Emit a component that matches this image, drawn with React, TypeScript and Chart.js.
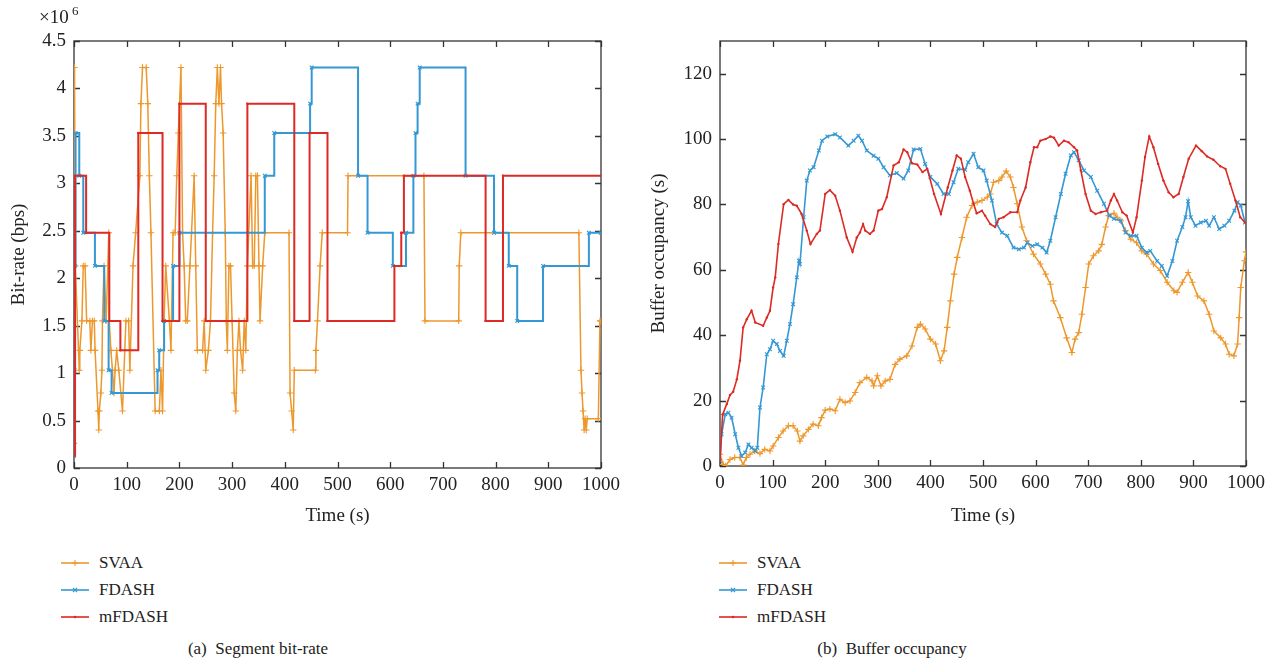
import React, { useEffect, useRef } from 'react';
import { Chart, registerables } from 'chart.js';
Chart.register(...registerables);

const FONT = '"Liberation Serif", "Times New Roman", serif';
const ORANGE = 'rgb(237,152,44)';
const BLUE = 'rgb(52,152,212)';
const RED = 'rgb(220,42,36)';
const AXIS = '#333333';

const seriesNames = ['SVAA', 'FDASH', 'mFDASH'];
const xTicks = [0, 100, 200, 300, 400, 500, 600, 700, 800, 900, 1000];
const rateTicks = [0, 0.5, 1, 1.5, 2, 2.5, 3, 3.5, 4, 4.5];
const bufTicks = [0, 20, 40, 60, 80, 100, 120];

// ---- (a) Segment bit-rate (x10^6 bps) ----
const rateSvaaT = [0, 1, 2.5, 10, 11, 15, 17.6, 21, 24, 30, 32, 35, 38.5, 40, 45.5, 47, 48, 51, 53, 54, 57, 61, 66, 67, 70, 73, 76, 78, 81, 85, 92, 98.5, 103.6, 106, 112, 117, 125, 127, 130, 137, 140, 143, 146, 154, 162, 165, 168, 171, 174, 181, 184, 188, 192, 195, 198, 203, 206, 209, 212, 215, 220, 223, 228, 231, 234, 244, 247, 250, 255, 259, 263, 266, 269, 272, 275, 278, 280, 283, 287, 289, 291, 294, 297, 300, 304, 307, 310, 313, 316, 320, 323, 326, 329, 336, 339, 342, 345, 348, 351, 353, 358, 362, 408, 410, 413, 416, 418, 458, 459, 462, 467, 471, 519, 520, 664, 666, 730, 731, 734, 958, 962, 964, 966, 968, 970, 972, 974, 995, 998, 1000];
const rateSvaaV = [0.26, 4.22, 2.13, 1.03, 1.24, 1.55, 2.13, 2.13, 1.55, 1.55, 1.24, 1.55, 1.55, 1.24, 0.6, 0.4, 0.6, 0.79, 1.03, 1.55, 2.13, 1.55, 2.48, 1.55, 1.24, 1.03, 0.79, 1.03, 1.24, 1.03, 0.6, 1.55, 1.55, 1.03, 2.13, 2.48, 3.08, 3.84, 4.22, 4.22, 3.84, 3.08, 2.48, 0.6, 0.6, 1.03, 0.6, 1.55, 2.13, 1.55, 1.24, 2.48, 2.48, 3.08, 3.53, 4.22, 2.48, 2.13, 1.55, 1.55, 2.13, 2.48, 3.08, 2.13, 1.24, 1.24, 1.55, 1.03, 1.24, 1.55, 2.48, 3.08, 3.84, 4.22, 3.84, 4.22, 3.84, 3.53, 2.48, 1.55, 1.24, 2.13, 2.13, 1.55, 0.79, 0.6, 1.24, 1.55, 1.24, 1.03, 1.55, 1.24, 2.13, 3.08, 2.13, 2.13, 3.08, 3.08, 2.13, 1.55, 2.13, 2.48, 2.48, 0.79, 0.6, 0.4, 1.03, 1.03, 1.24, 1.55, 2.13, 2.48, 2.48, 3.08, 3.08, 1.55, 1.55, 2.13, 2.48, 2.48, 1.03, 0.79, 0.6, 0.4, 0.52, 0.4, 0.52, 0.52, 1.55, 1.55];

const rateFdashT = [0, 1, 2, 3, 10, 17.6, 39.7, 57.4, 65.7, 71.3, 158.5, 161.7, 171, 188, 200, 362, 380, 448, 451, 539, 557, 605, 630, 644, 648, 652, 656, 743, 797, 825, 841, 890, 977, 1000];
const rateFdashV = [0.13, 1.03, 2.13, 3.53, 3.08, 2.48, 2.13, 1.55, 1.03, 0.79, 1.03, 1.24, 1.55, 2.13, 2.48, 3.08, 3.53, 3.84, 4.22, 3.08, 2.48, 2.13, 2.48, 3.08, 3.53, 3.84, 4.22, 3.08, 2.48, 2.13, 1.55, 2.13, 2.48, 2.48];

const rateMfdashT = [0, 2, 23, 67, 88, 122, 168, 200, 250, 329, 418, 447, 481, 608, 621, 626, 781, 814, 1000];
const rateMfdashV = [0.13, 3.08, 2.48, 1.55, 1.24, 3.53, 1.55, 3.84, 1.55, 3.84, 1.55, 3.53, 1.55, 2.13, 2.48, 3.08, 1.55, 3.08, 3.08];

// ---- (b) Buffer occupancy (s) ----
const bufSvaaT = [0, 6, 11, 19, 28, 38, 44, 50, 57, 66, 76, 85, 95, 101, 111, 120, 130, 139, 147, 152, 158, 168, 177, 187, 193, 200, 209, 219, 228, 238, 247, 257, 266, 279, 289, 292, 299, 306, 314, 323, 333, 342, 355, 365, 375, 381, 390, 400, 410, 419, 426, 432, 438, 445, 451, 460, 469, 479, 489, 498, 508, 514, 520, 530, 536, 544, 552, 558, 565, 574, 583, 596, 609, 619, 628, 634, 647, 659, 669, 675, 682, 688, 695, 701, 710, 720, 726, 733, 739, 749, 755, 762, 771, 781, 792, 802, 811, 824, 837, 850, 863, 869, 879, 890, 898, 908, 920, 930, 939, 952, 961, 968, 977, 984, 987, 990, 997, 1000];
const bufSvaaV = [3.6, 0.5, 0, 2, 2.6, 2.6, 0.3, 2.6, 3.6, 4.6, 3.8, 5.1, 4.6, 6.1, 8.7, 10.7, 12.3, 12.3, 10.7, 7.6, 9.2, 11.2, 12.8, 12.3, 14.8, 17.1, 17.4, 16.9, 20.4, 19.4, 19.9, 22.5, 25.5, 27.1, 26, 24.5, 27.6, 24.5, 26, 26.5, 31.1, 32.7, 33.7, 36.7, 42.4, 43.4, 41.9, 38.8, 37.3, 32.2, 35.2, 42.4, 50.5, 58.7, 63.8, 69.9, 76.1, 79.7, 80.7, 81.2, 82.2, 83.2, 86.8, 87.3, 88.4, 90.2, 88.4, 85.2, 80.2, 73.1, 68.9, 64.8, 61.8, 58.7, 55.6, 50.5, 45.4, 39.2, 34.7, 38.8, 40.8, 46.4, 54.6, 61.8, 64.3, 65.8, 67.8, 73.1, 76.6, 77.3, 76.1, 75, 72, 69.4, 68.3, 65.8, 64.8, 61.8, 59.8, 56.2, 53.6, 53.1, 56.2, 59.2, 56.2, 52, 50.5, 46.4, 41.3, 39.2, 37.3, 34.2, 33.7, 37.3, 45.4, 54.6, 62.8, 65.5];

const bufFdashT = [0, 3, 10, 16, 22, 29, 35, 41, 48, 54, 60, 67, 71, 76, 82, 89, 95, 101, 108, 114, 121, 127, 133, 139, 146, 150, 152, 159, 165, 171, 178, 188, 194, 204, 219, 228, 244, 254, 263, 270, 279, 292, 301, 311, 323, 336, 349, 358, 368, 381, 390, 400, 413, 425, 435, 444, 453, 466, 472, 482, 491, 501, 507, 517, 526, 536, 546, 558, 568, 578, 584, 594, 603, 613, 621, 628, 638, 648, 657, 667, 673, 682, 692, 705, 717, 730, 740, 749, 762, 771, 781, 792, 802, 811, 818, 831, 840, 850, 860, 869, 879, 885, 890, 895, 904, 914, 924, 930, 939, 949, 959, 968, 978, 984, 990, 998];
const bufFdashV = [1.5, 9.7, 15.8, 16.3, 14.8, 9.7, 5.6, 3.1, 4.1, 6.6, 5.6, 4.6, 5.6, 17.9, 24, 34.2, 35.7, 38.3, 37.3, 35.2, 33.7, 38.3, 43.4, 49.5, 57.7, 62.8, 61.8, 76.1, 87.3, 90.4, 91.4, 96.5, 99.5, 100.8, 101.5, 100.5, 98, 99.5, 101, 99.5, 96.5, 94.9, 94, 91.4, 88.9, 89.6, 87.9, 90.4, 96.8, 97, 92.4, 88.4, 86.3, 83.2, 83.2, 86.8, 90.9, 90.6, 92.9, 95.5, 91.4, 90.4, 87.3, 81.2, 74, 71.4, 70.4, 66.8, 66.3, 66.8, 68.3, 67.3, 67.8, 66.8, 65.3, 68.9, 76.1, 83.2, 89.4, 95, 96, 93.5, 90.4, 88.4, 84.2, 80.2, 76.6, 75.6, 75, 71.4, 70.4, 70.4, 66.8, 65.3, 65.8, 62.7, 61.2, 58.1, 62.7, 68.9, 73.1, 76.1, 81, 76.1, 73.5, 74.5, 75, 73.5, 76.1, 72.5, 73.5, 75, 78.1, 80.7, 79.7, 74.5];

const bufMfdashT = [0, 5, 13, 19, 25, 32, 38, 44, 51, 60, 67, 82, 89, 95, 101, 105, 111, 121, 130, 139, 146, 155, 165, 172, 184, 190, 200, 209, 219, 228, 241, 252, 260, 266, 272, 276, 285, 292, 301, 308, 317, 330, 340, 349, 356, 365, 375, 385, 394, 407, 420, 433, 442, 450, 458, 466, 475, 482, 488, 498, 504, 514, 523, 530, 539, 552, 565, 571, 581, 590, 597, 603, 609, 619, 628, 635, 644, 654, 663, 673, 679, 686, 695, 705, 714, 724, 736, 743, 749, 755, 765, 773, 785, 792, 802, 808, 816, 824, 833, 843, 853, 862, 872, 881, 891, 905, 916, 926, 938, 951, 961, 970, 980, 989, 998];
const bufMfdashV = [1.5, 15.8, 19, 21.7, 22.7, 26.5, 32.2, 42.4, 44.9, 47.5, 43.9, 42.9, 45.4, 47.5, 54.6, 57.7, 67.9, 80.1, 81.4, 80, 79.6, 77.1, 72, 67.9, 71, 72, 83.2, 84.4, 82.7, 78.1, 69.9, 65.5, 69.9, 71.4, 74, 72, 71, 72, 78.1, 78.6, 82.2, 91.9, 92.9, 96.8, 96, 92.6, 92.2, 89.9, 90.9, 83.2, 77.1, 85.2, 90.4, 95, 94, 88.4, 84.2, 80.2, 77.3, 78.1, 76.6, 74, 73.1, 75.6, 76.1, 77.6, 77.6, 81.2, 85.2, 92.9, 97.5, 97.5, 99.5, 100, 100.8, 100.4, 98, 99.5, 99, 97.5, 96.5, 90.4, 83.2, 78.1, 77.1, 77.6, 78.1, 81.2, 83.2, 81.2, 77.6, 76.6, 71.4, 76.1, 87.3, 94.5, 100.8, 97.5, 92.4, 87.3, 83.7, 82.2, 83.2, 88.4, 94, 98, 96.3, 94.7, 93.7, 91.7, 90.9, 86.3, 81.2, 76.1, 74.5];

const pts = (t: number[], v: number[]) => t.map((x, i) => ({ x, y: v[i] }));

const boxPlugin = {
  id: 'boxTicks',
  beforeDatasetsDraw(chart: any) {
    const { ctx, chartArea: a, scales } = chart;
    ctx.save();
    ctx.strokeStyle = AXIS;
    ctx.lineWidth = 1.3;
    ctx.strokeRect(a.left, a.top, a.right - a.left, a.bottom - a.top);
    const tl = 6;
    ctx.beginPath();
    scales.x.ticks.forEach((t: any) => {
      const p = Math.round(scales.x.getPixelForValue(t.value)) + 0.5;
      ctx.moveTo(p, a.bottom); ctx.lineTo(p, a.bottom - tl);
      ctx.moveTo(p, a.top); ctx.lineTo(p, a.top + tl);
    });
    scales.y.ticks.forEach((t: any) => {
      const p = Math.round(scales.y.getPixelForValue(t.value)) + 0.5;
      ctx.moveTo(a.left, p); ctx.lineTo(a.left + tl, p);
      ctx.moveTo(a.right, p); ctx.lineTo(a.right - tl, p);
    });
    ctx.stroke();
    ctx.restore();
  },
  afterDraw(chart: any, _args: any, opts: any) {
    if (!opts || !opts.multiplier) return;
    const { ctx } = chart;
    ctx.save();
    ctx.fillStyle = '#222';
    ctx.textBaseline = 'alphabetic';
    ctx.font = `19px ${FONT}`;
    ctx.fillText('×10', 39, 23);
    ctx.font = `13px ${FONT}`;
    ctx.fillText('6', 72, 15);
    ctx.restore();
  },
};

function makeOptions(cfg: any) {
  const tickFont = { family: FONT, size: 19 };
  const titleFont = { family: FONT, size: 19 };
  return {
    animation: false,
    responsive: false,
    layout: { padding: { left: 0, right: cfg.padRight, top: 41, bottom: 0 } },
    plugins: { legend: { display: false }, tooltip: { enabled: false }, boxTicks: { multiplier: cfg.multiplier } },
    elements: { line: { tension: 0 } },
    scales: {
      x: {
        type: 'linear', min: 0, max: 1000,
        afterBuildTicks: (s: any) => { s.ticks = xTicks.map((v) => ({ value: v })); },
        afterFit: (s: any) => { s.height = cfg.xHeight; },
        grid: { display: false, drawTicks: false },
        border: { display: false },
        ticks: { padding: 6, color: '#222', font: tickFont, maxRotation: 0, callback: (v: any) => String(v) },
        title: { display: true, text: 'Time (s)', color: '#222', font: titleFont, padding: { top: 0, bottom: 3 } },
      },
      y: {
        type: 'linear', min: 0, max: cfg.yMax,
        afterBuildTicks: (s: any) => { s.ticks = cfg.yTicks.map((v: number) => ({ value: v })); },
        afterFit: (s: any) => { s.width = cfg.yWidth; },
        grid: { display: false, drawTicks: false },
        border: { display: false },
        ticks: { padding: 8, color: '#222', font: tickFont, callback: (v: any) => String(v) },
        title: { display: true, text: cfg.yTitle, color: '#222', font: titleFont, padding: { top: cfg.yTitlePad, bottom: 0 } },
      },
    },
  };
}

function datasets(svaa: any[], fdash: any[], mfdash: any[], stepped: boolean, lw: number) {
  return [
    { label: seriesNames[0], data: svaa, borderColor: ORANGE, backgroundColor: ORANGE, borderWidth: 1.5, pointStyle: 'cross', pointRadius: 3.2, pointBorderWidth: 1.1, pointBorderColor: ORANGE, order: 3 },
    { label: seriesNames[1], data: fdash, borderColor: BLUE, backgroundColor: BLUE, borderWidth: lw, stepped, pointStyle: 'crossRot', pointRadius: 2.6, pointBorderWidth: 1.1, pointBorderColor: BLUE, order: 2 },
    { label: seriesNames[2], data: mfdash, borderColor: RED, backgroundColor: RED, borderWidth: lw, stepped, pointStyle: 'circle', pointRadius: 1.2, pointBorderWidth: 0, order: 1 },
  ];
}

function LegendRow({ color, marker, name }: any) {
  let m: any = null;
  if (marker === 'plus') m = <path d="M14 2 V8 M11 5 H17" stroke={color} strokeWidth={1.1} />;
  else if (marker === 'x') m = <path d="M12 3 L16 7 M16 3 L12 7" stroke={color} strokeWidth={1.1} />;
  else m = <circle cx={14} cy={5} r={1.3} fill={color} />;
  return (
    <div style={{ display: 'flex', alignItems: 'center', height: 27 }}>
      <svg width={28} height={10} style={{ display: 'block' }}>
        <line x1={0} y1={5} x2={28} y2={5} stroke={color} strokeWidth={1.6} />
        {m}
      </svg>
      <span style={{ marginLeft: 10, fontFamily: FONT, fontSize: 17, color: '#222', lineHeight: '27px' }}>{name}</span>
    </div>
  );
}

function Legend({ left }: { left: number }) {
  return (
    <div style={{ position: 'absolute', left, top: 549 }}>
      <LegendRow color={ORANGE} marker="plus" name={seriesNames[0]} />
      <LegendRow color={BLUE} marker="x" name={seriesNames[1]} />
      <LegendRow color={RED} marker="dot" name={seriesNames[2]} />
    </div>
  );
}

export default function App() {
  const rateRef = useRef<HTMLCanvasElement>(null);
  const bufRef = useRef<HTMLCanvasElement>(null);

  useEffect(() => {
    const c1 = new Chart(rateRef.current as HTMLCanvasElement, {
      type: 'line',
      data: { datasets: datasets(pts(rateSvaaT, rateSvaaV), pts(rateFdashT, rateFdashV), pts(rateMfdashT, rateMfdashV), true, 2) as any },
      options: makeOptions({ padRight: 36, xHeight: 62, yMax: 4.5, yTicks: rateTicks, yWidth: 74, yTitle: 'Bit-rate (bps)', yTitlePad: 8, multiplier: true }) as any,
      plugins: [boxPlugin],
    });
    const c2 = new Chart(bufRef.current as HTMLCanvasElement, {
      type: 'line',
      data: { datasets: datasets(pts(bufSvaaT, bufSvaaV), pts(bufFdashT, bufFdashV), pts(bufMfdashT, bufMfdashV), false, 1.6) as any },
      options: makeOptions({ padRight: 28, xHeight: 64, yMax: 130, yTicks: bufTicks, yWidth: 83, yTitle: 'Buffer occupancy (s)', yTitlePad: 11, multiplier: false }) as any,
      plugins: [boxPlugin],
    });
    return () => { c1.destroy(); c2.destroy(); };
  }, []);

  const caption = { position: 'absolute' as const, top: 639, fontFamily: FONT, fontSize: 17, color: '#222', whiteSpace: 'pre' as const, transform: 'translateX(-50%)' };

  return (
    <div style={{ position: 'fixed', left: 0, top: 0, width: 1274, height: 665, background: '#fff', overflow: 'hidden' }}>
      <canvas ref={rateRef} width={637} height={530} style={{ position: 'absolute', left: 0, top: 0, width: 637, height: 530 }} />
      <canvas ref={bufRef} width={637} height={530} style={{ position: 'absolute', left: 637, top: 0, width: 637, height: 530 }} />
      <Legend left={61} />
      <Legend left={719} />
      <div style={{ ...caption, left: 258 }}>(a)  Segment bit-rate</div>
      <div style={{ ...caption, left: 892 }}>(b)  Buffer occupancy</div>
    </div>
  );
}
